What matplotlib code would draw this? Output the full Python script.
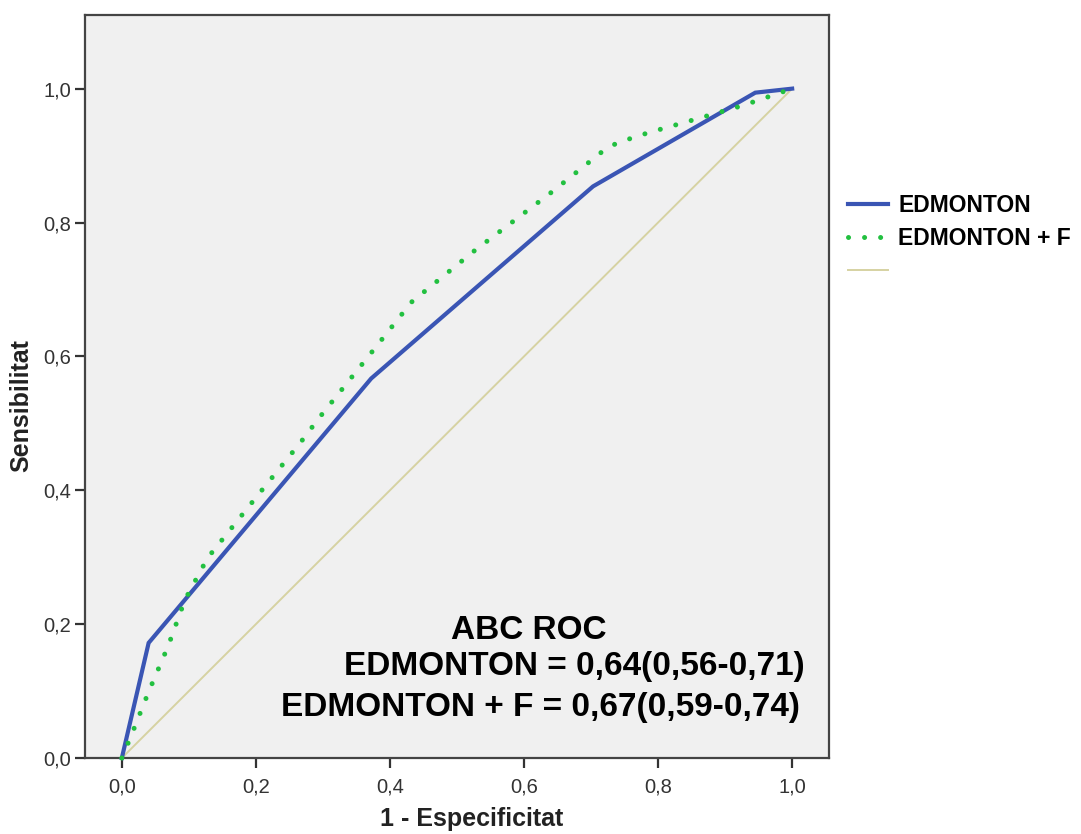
import matplotlib
matplotlib.use("Agg")
import matplotlib.pyplot as plt

plt.rcParams['font.family'] = ['Liberation Sans', 'DejaVu Sans']

# ROC curve coordinates (1 - specificity, sensitivity)
edm_x = [0.0, 0.04, 0.372, 0.703, 0.945, 1.0]
edm_y = [0.0, 0.172, 0.567, 0.854, 0.994, 1.0]

edmf_x = [0.0, 0.013, 0.040, 0.069, 0.094, 0.128, 0.204, 0.267, 0.295,
          0.371, 0.432, 0.525, 0.642, 0.718, 0.739, 0.785, 0.855, 0.927, 1.0]
edmf_y = [0.0, 0.031, 0.099, 0.167, 0.236, 0.299, 0.394, 0.472, 0.509,
          0.604, 0.681, 0.757, 0.846, 0.907, 0.919, 0.934, 0.954, 0.975, 1.0]

ref_x = [0.0, 1.0]
ref_y = [0.0, 1.0]

series_labels = ["EDMONTON", "EDMONTON + F", ""]
tick_vals = [0.0, 0.2, 0.4, 0.6, 0.8, 1.0]
tick_labels = ["0,0", "0,2", "0,4", "0,6", "0,8", "1,0"]
auc_lines = ["ABC ROC",
             "EDMONTON = 0,64(0,56-0,71)",
             "EDMONTON + F = 0,67(0,59-0,74)"]

fig = plt.figure(figsize=(10.81, 8.34), dpi=100)
ax = fig.add_axes([0.0786, 0.0911, 0.6883, 0.8909])
ax.set_facecolor('#f0f0f0')

h1, = ax.plot(edm_x, edm_y, color='#3a55b4', lw=3.0, solid_joinstyle='miter',
              zorder=3, clip_on=False)
h2, = ax.plot(edmf_x, edmf_y, color='#22c040', lw=3.6,
              linestyle=(0, (0.01, 3.2)), dash_capstyle='round', zorder=4,
              clip_on=False)
h3, = ax.plot(ref_x, ref_y, color='#d6d2a2', lw=1.4, zorder=2)

ax.set_xlim(-0.055, 1.055)
ax.set_ylim(0.0, 1.11)
ax.set_xticks(tick_vals)
ax.set_xticklabels(tick_labels)
ax.set_yticks(tick_vals)
ax.set_yticklabels(tick_labels)
ax.tick_params(axis='both', direction='out', length=7, width=1.6,
               color='#333333', labelsize=14.5, labelcolor='#333333')
ax.tick_params(axis='x', pad=7)
ax.tick_params(axis='y', pad=3)

for s in ax.spines.values():
    s.set_color('#444444')
    s.set_linewidth(1.6)

ax.set_xlabel("1 - Especificitat", fontsize=18, fontweight='bold', color='#222222')
ax.set_ylabel("Sensibilitat", fontsize=18, fontweight='bold', color='#222222')
ax.xaxis.set_label_coords(0.52, -0.066)
ax.yaxis.set_label_coords(-0.069, 0.475)

fs = 24
ax.text(0.607, 0.191, auc_lines[0], fontsize=fs, fontweight='bold', ha='center', va='center')
ax.text(1.019, 0.136, auc_lines[1], fontsize=fs, fontweight='bold', ha='right', va='center')
ax.text(1.012, 0.076, auc_lines[2], fontsize=fs, fontweight='bold', ha='right', va='center')

fig.legend([h1, h2, h3], series_labels, loc='upper left',
           bbox_to_anchor=(0.7695, 0.787), frameon=False,
           prop={'size': 16.5, 'weight': 'bold'}, handlelength=1.75,
           handletextpad=0.45, labelspacing=0.45, borderpad=0.2)

fig.savefig("out.png", dpi=100)
